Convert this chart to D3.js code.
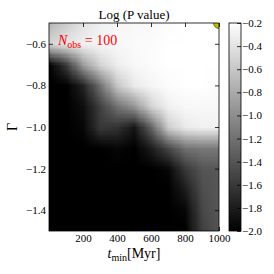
<!DOCTYPE html>
<html>
<head>
<meta charset="utf-8">
<script src="https://cdn.jsdelivr.net/npm/d3@7"></script>
<style>
  body { margin: 0; background: #fff; }
</style>
</head>
<body>
<svg id="chart" width="274" height="274"></svg>
<script>
// grid of the map: columns are t_min, rows are Gamma (top row first)
var tMin = [0, 100, 200, 300, 400, 500, 600, 700, 800, 900, 1000];
var gammaRows = [-0.5, -0.6, -0.7, -0.8, -0.9, -1.0, -1.1, -1.2, -1.3, -1.4, -1.5];
var logP = [
  [-0.70, -0.55, -0.40, -0.30, -0.26, -0.25, -0.24, -0.22, -0.20, -0.20, -0.20],
  [-0.50, -0.38, -0.30, -0.27, -0.25, -0.23, -0.22, -0.20, -0.20, -0.20, -0.20],
  [-2.00, -1.60, -0.90, -0.50, -0.32, -0.25, -0.22, -0.20, -0.20, -0.20, -0.20],
  [-2.00, -2.00, -1.75, -1.20, -0.60, -0.35, -0.27, -0.22, -0.20, -0.20, -0.22],
  [-2.00, -2.00, -1.90, -1.55, -1.20, -0.95, -0.50, -0.30, -0.25, -0.25, -0.25],
  [-2.00, -2.00, -1.95, -1.60, -1.65, -1.85, -1.30, -0.55, -0.35, -0.30, -0.30],
  [-2.00, -2.00, -2.00, -2.00, -1.95, -2.00, -1.80, -1.50, -1.20, -1.15, -1.15],
  [-2.00, -2.00, -2.00, -2.00, -2.00, -2.00, -2.00, -1.95, -1.60, -1.40, -1.38],
  [-2.00, -2.00, -2.00, -2.00, -2.00, -2.00, -2.00, -2.00, -1.80, -1.45, -1.38],
  [-2.00, -2.00, -2.00, -2.00, -2.00, -2.00, -2.00, -2.00, -1.95, -1.50, -1.38],
  [-2.00, -2.00, -2.00, -2.00, -2.00, -2.00, -2.00, -2.00, -2.00, -1.55, -1.40]
];
var xTicks = [200, 400, 600, 800, 1000];
var yTicks = [-0.6, -0.8, -1.0, -1.2, -1.4];
var cbTicks = [-0.2, -0.4, -0.6, -0.8, -1.0, -1.2, -1.4, -1.6, -1.8, -2.0];
var bestFit = [{t: 1000, g: -0.5}];
var nObs = 100;

(function(){
var serif = "'Liberation Serif', 'DejaVu Serif', serif";
var svg = d3.select("#chart").attr("font-family", serif);
var left = 49, right = 219, topY = 23, bottom = 231;

var x = d3.scaleLinear().domain([0, 1000]).range([left, right]);
var y = d3.scaleLinear().domain([-1.5, -0.5]).range([bottom, topY]);
var col = d3.scaleLinear().domain([-2.0, -0.2]).range([0, 1]).clamp(true);
var grey = function(v){ return d3.interpolateRgb("#000", "#fff")(col(v)); };
var fmt = function(d){ return d3.format(".1f")(d).replace("-", "\u2212"); };

svg.append("defs").append("clipPath").attr("id", "plotclip")
  .append("rect").attr("x", left).attr("y", topY)
  .attr("width", right - left).attr("height", bottom - topY);

// map: one pixel per grid cell, smoothed when scaled up (bilinear like imshow)
var cv = document.createElement("canvas");
cv.width = tMin.length; cv.height = gammaRows.length;
var ctx = cv.getContext("2d");
logP.forEach(function(row, j){
  row.forEach(function(v, i){
    ctx.fillStyle = grey(v);
    ctx.fillRect(i, j, 1, 1);
  });
});
var dt = tMin[1] - tMin[0], dg = gammaRows[0] - gammaRows[1];
svg.append("g").attr("clip-path", "url(#plotclip)")
  .append("image")
  .attr("href", cv.toDataURL())
  .attr("preserveAspectRatio", "none")
  .attr("x", x(tMin[0] - dt/2))
  .attr("y", y(gammaRows[0] + dg/2))
  .attr("width", x(tMin[tMin.length-1] + dt/2) - x(tMin[0] - dt/2))
  .attr("height", y(gammaRows[gammaRows.length-1] - dg/2) - y(gammaRows[0] + dg/2));

// best fit marker, clipped at the corner
svg.append("g").attr("clip-path", "url(#plotclip)")
  .selectAll("circle").data(bestFit).enter().append("circle")
  .attr("cx", function(d){ return x(d.t); })
  .attr("cy", function(d){ return y(d.g); })
  .attr("r", 5.5)
  .style("fill", "#bfbf00").style("stroke", "#000").style("stroke-width", 0.5);

// axes, ticks inward on all sides
var tk = 4;
var axB = svg.append("g").attr("transform", "translate(0," + bottom + ")")
  .call(d3.axisBottom(x).tickValues(xTicks).tickSize(-tk).tickPadding(3).tickFormat(d3.format("d")));
var axT = svg.append("g").attr("transform", "translate(0," + topY + ")")
  .call(d3.axisTop(x).tickValues(xTicks).tickSize(-tk).tickFormat(""));
var axL = svg.append("g").attr("transform", "translate(" + left + ",0)")
  .call(d3.axisLeft(y).tickValues(yTicks).tickSize(-tk).tickPadding(3).tickFormat(fmt));
var axR = svg.append("g").attr("transform", "translate(" + right + ",0)")
  .call(d3.axisRight(y).tickValues(yTicks).tickSize(-tk).tickFormat(""));
[axB, axT, axL, axR].forEach(function(a){
  a.attr("font-family", serif).attr("font-size", 11);
  a.select(".domain").remove();
  a.selectAll("line").attr("stroke", "#000").attr("stroke-width", 0.8);
  a.selectAll("text").attr("fill", "#000");
});
svg.append("rect").attr("x", left).attr("y", topY)
  .attr("width", right - left).attr("height", bottom - topY)
  .style("fill", "none").style("stroke", "#000").style("stroke-width", 0.8);

// colorbar
var cbx = 229, cbw = 12;
var cy = d3.scaleLinear().domain([-2.0, -0.2]).range([bottom, topY]);
var grad = svg.select("defs").append("linearGradient").attr("id", "cbgrad")
  .attr("x1", 0).attr("y1", 1).attr("x2", 0).attr("y2", 0);
grad.append("stop").attr("offset", 0).attr("stop-color", grey(-2.0));
grad.append("stop").attr("offset", 1).attr("stop-color", grey(-0.2));
svg.append("rect").attr("x", cbx).attr("y", topY).attr("width", cbw).attr("height", bottom - topY)
  .style("fill", "url(#cbgrad)").style("stroke", "#000").style("stroke-width", 0.8);
var axC = svg.append("g").attr("transform", "translate(" + (cbx + cbw) + ",0)")
  .call(d3.axisRight(cy).tickValues(cbTicks).tickSize(-tk).tickPadding(1).tickFormat(fmt));
axC.attr("font-family", serif).attr("font-size", 11);
axC.select(".domain").remove();
axC.selectAll("line").attr("stroke", "#000").attr("stroke-width", 0.8);
axC.selectAll("text").attr("fill", "#000");

// labels
svg.append("text").attr("x", (left + right)/2).attr("y", 19)
  .attr("text-anchor", "middle").style("font-size", "13px").text("Log (P value)");

var xl = svg.append("text").attr("x", (left + right)/2).attr("y", 258)
  .attr("text-anchor", "middle").style("font-size", "14px");
xl.append("tspan").style("font-style", "italic").text("t");
xl.append("tspan").attr("dy", 3).style("font-size", "10px").text("min");
xl.append("tspan").attr("dy", -3).text("[Myr]");

svg.append("text").attr("transform", "translate(17," + (topY + bottom)/2 + ") rotate(-90)")
  .attr("text-anchor", "middle").style("font-size", "14px").text("\u0393");

var nl = svg.append("text").attr("x", 58).attr("y", 45)
  .style("font-size", "14px").attr("fill", "#ff0000");
nl.append("tspan").style("font-style", "italic").text("N");
nl.append("tspan").attr("dy", 3).style("font-size", "10px").text("obs");
nl.append("tspan").attr("dy", -3).text(" = " + nObs);
})();
</script>
</body>
</html>
